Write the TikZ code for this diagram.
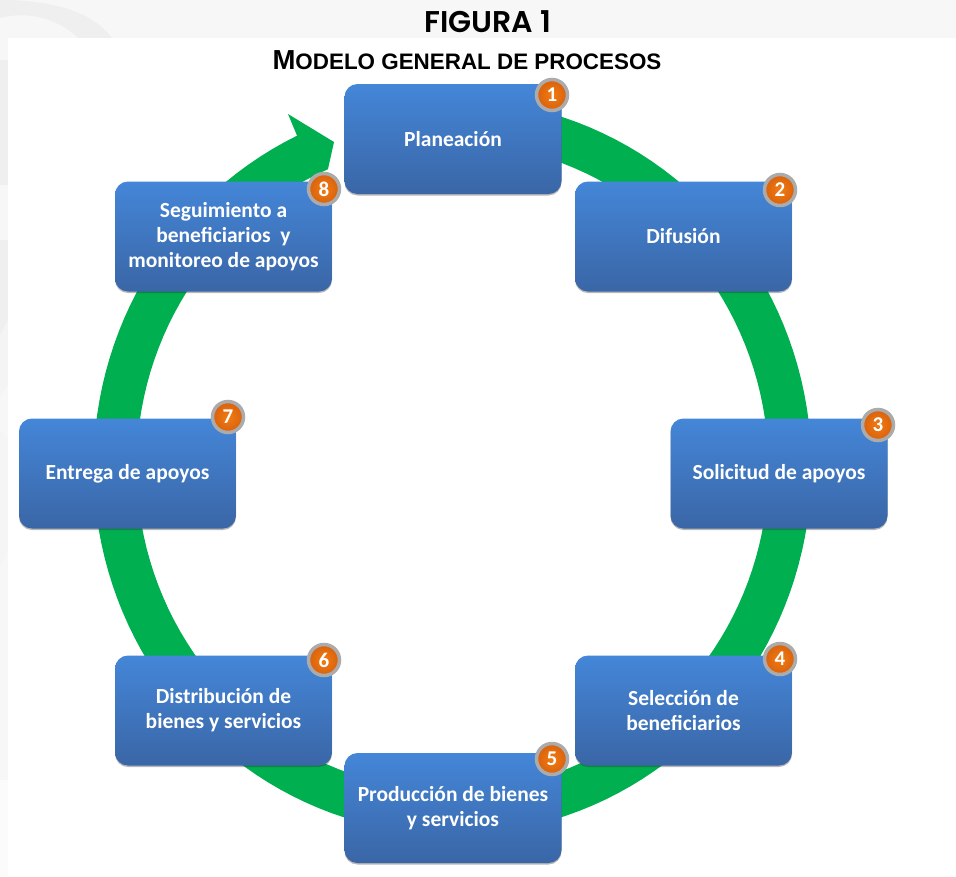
\documentclass[tikz,border=0pt]{standalone}
\usepackage{fontspec}
\setmainfont{Carlito}
\newfontfamily\titlefont{Poppins SemiBold}[BoldFont={Poppins SemiBold}]
\newfontfamily\subfont{Liberation Sans}
\usetikzlibrary{shadows}
\definecolor{ringgreen}{HTML}{00B050}
\definecolor{boxtop}{HTML}{4486D8}
\definecolor{boxbot}{HTML}{3A66A6}
\definecolor{stripgray}{HTML}{F7F7F7}
\definecolor{swirlgray}{HTML}{EFEFEF}
\definecolor{badgein}{HTML}{F07C14}
\definecolor{badgeout}{HTML}{D9610C}
\tikzset{
  procbox/.style={draw=none,rounded corners=13pt,minimum width=217pt,minimum height=110pt,
    top color=boxtop,bottom color=boxbot,align=center,text=white,inner sep=0pt,
    font=\fontsize{21.5}{25}\selectfont\bfseries,
    drop shadow={shadow xshift=0pt,shadow yshift=-1.5pt,opacity=.35,fill=black!80}},
  badge/.style={circle,minimum size=31pt,inner sep=0pt,draw=black!33,line width=3.5pt,
    inner color=badgein,outer color=badgeout,text=white,
    font=\fontsize{21}{21}\selectfont\bfseries},
  ringfill/.style={fill=ringgreen,draw=none},
}
\begin{document}
\begin{tikzpicture}[x=1pt,y=-1pt]
\useasboundingbox (0,0) rectangle (956,876);
\fill[stripgray] (0,0) rectangle (956,876);
% faint background pattern of the page, seen around the white panel
\fill[swirlgray] (0,0) .. controls (60,0) and (95,15) .. (112,38) -- (78,38) .. controls (60,20) and (30,10) .. (0,18) -- cycle;
\fill[swirlgray] (0,60) rectangle (8,185);
\fill[swirlgray] (0,240) rectangle (8,335);
\fill[swirlgray!70!white] (0,335) -- (8,320) -- (8,385) -- (0,395) -- cycle;
\fill[swirlgray!60!white] (0,430) -- (8,440) -- (8,550) -- (0,565) -- cycle;
\fill[white] (8,38) rectangle (956,876);
\fill[white!50!stripgray] (0,780) rectangle (8,876);
\node[font=\titlefont\fontsize{30}{30}\selectfont] (fig) at (488,22) {FIGURA 1};
\node[font=\subfont\bfseries] (sub) at (467,60) {{\fontsize{27.5}{27.5}\selectfont M}{\fontsize{22.4}{22.4}\selectfont ODELO GENERAL DE PROCESOS}};
% ring with arrowhead
\fill[ringfill]
  plot[domain=90:-244.34,samples=150] ({452.5+359*cos(\x)},{467-367.6*sin(\x)})
  -- (288,114) -- (334,142) -- (328,169)
  -- plot[domain=-246.8:90,samples=150] ({452.5+316*cos(\x)},{467-324*sin(\x)}) -- cycle;
% boxes
\node[procbox] (b1) at (453,139) {Planeación};
\node[procbox] (b2) at (683.5,236.5) {Difusión};
\node[procbox] (b3) at (779,473.5) {Solicitud de apoyos};
\node[procbox] (b4) at (683.5,710.5) {Selección de\\beneficiarios};
\node[procbox] (b5) at (453,808) {Producción de bienes\\y servicios};
\node[procbox] (b6) at (223.5,710.5) {Distribución de\\bienes y servicios};
\node[procbox] (b7) at (127.5,473.5) {Entrega de apoyos};
\node[procbox] (b8) at (223.5,236.5) {Seguimiento a\\beneficiarios\ \ y\\monitoreo de apoyos};
% badges
\node[badge] (n1) at (552,95) {1};
\node[badge] (n2) at (780,190) {2};
\node[badge] (n3) at (878,425) {3};
\node[badge] (n4) at (780,659) {4};
\node[badge] (n5) at (552,759) {5};
\node[badge] (n6) at (324,660) {6};
\node[badge] (n7) at (228,417) {7};
\node[badge] (n8) at (324,189) {8};
\end{tikzpicture}
\end{document}
